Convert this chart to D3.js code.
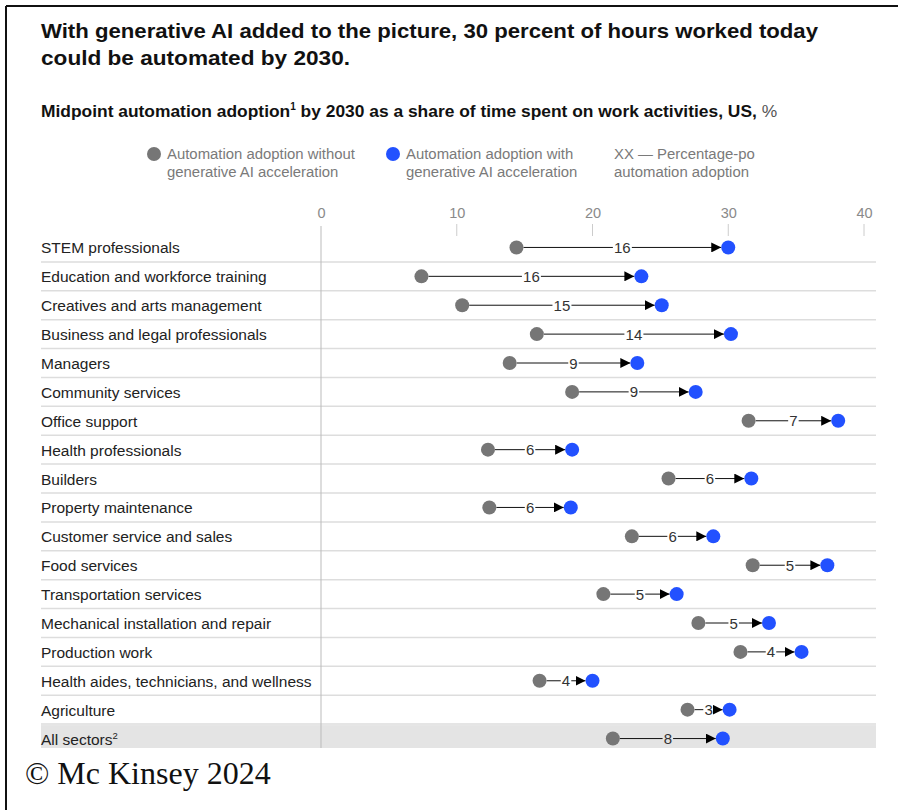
<!DOCTYPE html>
<html>
<head>
<meta charset="utf-8">
<script src="https://cdn.jsdelivr.net/npm/d3@7"></script>
<style>
  html, body { margin: 0; padding: 0; background: #fff; }
  svg { display: block; }
</style>
</head>
<body>
<svg id="chart" width="898" height="810"></svg>
<script>
// Occupation groups, top to bottom
const categories = [
  "STEM professionals",
  "Education and workforce training",
  "Creatives and arts management",
  "Business and legal professionals",
  "Managers",
  "Community services",
  "Office support",
  "Health professionals",
  "Builders",
  "Property maintenance",
  "Customer service and sales",
  "Food services",
  "Transportation services",
  "Mechanical installation and repair",
  "Production work",
  "Health aides, technicians, and wellness",
  "Agriculture",
  "All sectors"
];

// Midpoint adoption without generative AI acceleration, %
const withoutGenAI = [14.4, 7.4, 10.4, 15.9, 13.9, 18.5, 31.5, 12.3, 25.6, 12.4, 22.9, 31.8, 20.8, 27.8, 30.9, 16.1, 27.0, 21.5];
// Midpoint adoption with generative AI acceleration, %
const withGenAI = [30.0, 23.6, 25.1, 30.2, 23.3, 27.6, 38.1, 18.5, 31.7, 18.4, 28.9, 37.3, 26.2, 33.0, 35.4, 20.0, 30.1, 29.6];
// Percentage-point increase labels
const increase = [16, 16, 15, 14, 9, 9, 7, 6, 6, 6, 6, 5, 5, 5, 4, 4, 3, 8];

const xTicks = [0, 10, 20, 30, 40];

const GRAY = "#767676";
const BLUE = "#2251ff";
const FONT = "'Liberation Sans', Arial, sans-serif";

const svg = d3.select("#chart");

// frame
svg.append("line").attr("x1", 6).attr("x2", 898).attr("y1", 6).attr("y2", 6)
  .attr("stroke", "#111").attr("stroke-width", 2);
svg.append("line").attr("x1", 6).attr("x2", 6).attr("y1", 6).attr("y2", 810)
  .attr("stroke", "#111").attr("stroke-width", 2);

// title
const titleLines = [
  { text: "With generative AI added to the picture, 30 percent of hours worked today", w: 777, y: 38 },
  { text: "could be automated by 2030.", w: 309, y: 65 }
];
svg.append("g").selectAll("text").data(titleLines).join("text")
  .attr("x", 41).attr("y", d => d.y)
  .attr("font-family", FONT).attr("font-weight", "bold").attr("font-size", 21).attr("fill", "#111")
  .attr("textLength", d => d.w).attr("lengthAdjust", "spacingAndGlyphs")
  .text(d => d.text);

// subtitle
const sub = svg.append("text").attr("x", 41).attr("y", 117)
  .attr("font-family", FONT).attr("font-size", 17.4).attr("fill", "#111");
sub.append("tspan").attr("font-weight", "bold").text("Midpoint automation adoption");
sub.append("tspan").attr("font-weight", "bold").attr("font-size", 10).attr("dy", -7).text("1");
sub.append("tspan").attr("font-weight", "bold").attr("dy", 7).text(" by 2030 as a share of time spent on work activities, US, ");
sub.append("tspan").attr("fill", "#555").text("%");

// legend
const legend = [
  { x: 154, color: GRAY, lines: ["Automation adoption without", "generative AI acceleration"] },
  { x: 393, color: BLUE, lines: ["Automation adoption with", "generative AI acceleration"] },
  { x: null, color: null, lines: ["XX \u2014 Percentage-po", "automation adoption"] }
];
legend.forEach((d, i) => {
  const tx = i === 2 ? 614 : d.x + 13;
  if (d.color) {
    svg.append("circle").attr("cx", d.x).attr("cy", 154).attr("r", 7).attr("fill", d.color);
  }
  const t = svg.append("text").attr("font-family", FONT).attr("font-size", 14.9).attr("fill", "#7a7a7a");
  d.lines.forEach((l, j) => {
    t.append("tspan").attr("x", tx).attr("y", 159 + j * 18).text(l);
  });
});

// scales
const x = d3.scaleLinear().domain([0, 40]).range([321, 864]);
const y = d3.scaleBand().domain(categories).range([233, 753]).paddingInner(0).paddingOuter(0);
const rowH = y.bandwidth();
const left = 41, right = 876;

// highlighted total row
const last = categories[categories.length - 1];
svg.append("rect").attr("x", left).attr("width", right - left)
  .attr("y", y(last) + 1).attr("height", rowH - 6).attr("fill", "#e4e4e4");

// row separators
svg.append("g").selectAll("line").data(categories.slice(1)).join("line")
  .attr("x1", left).attr("x2", right)
  .attr("y1", d => y(d)).attr("y2", d => y(d))
  .attr("stroke", "#dddddd").attr("stroke-width", 1.5);

// top axis
const axis = d3.axisTop(x).tickValues(xTicks).tickSize(0).tickPadding(0);
const gAxis = svg.append("g").attr("transform", "translate(0,218)").call(axis);
gAxis.select(".domain").remove();
gAxis.selectAll("text").attr("font-family", FONT).attr("font-size", 14.5).attr("fill", "#8a8a8a");
svg.append("g").selectAll("line").data(xTicks.filter(t => t > 0)).join("line")
  .attr("x1", d => x(d)).attr("x2", d => x(d)).attr("y1", 224).attr("y2", 236)
  .attr("stroke", "#cccccc").attr("stroke-width", 1);
svg.append("line").attr("x1", x(0)).attr("x2", x(0)).attr("y1", 226).attr("y2", 748)
  .attr("stroke", "#bbbbbb").attr("stroke-width", 1);

// row labels
const labels = svg.append("g").selectAll("text").data(categories).join("text")
  .attr("x", left).attr("y", d => y(d) + rowH / 2 + 6)
  .attr("font-family", FONT).attr("font-size", 15.5).attr("fill", "#222")
  .text(d => d);
labels.filter(d => d === last).text("All sectors")
  .append("tspan").attr("font-size", 9.5).attr("dy", -6).text("2");

// arrow marker
svg.append("defs").append("marker")
  .attr("id", "arrow").attr("viewBox", "0 0 10 10").attr("refX", 10).attr("refY", 5)
  .attr("markerWidth", 10).attr("markerHeight", 10).attr("markerUnits", "userSpaceOnUse")
  .attr("orient", "auto")
  .append("path").attr("d", "M0,0L10,5L0,10Z").attr("fill", "#000");

const R = 7;
const rows = categories.map((c, i) => ({ c, a: withoutGenAI[i], b: withGenAI[i], d: increase[i] }));
const g = svg.append("g");
rows.forEach(r => {
  const cy = y(r.c) + rowH / 2;
  const x0 = x(r.a), x1 = x(r.b);
  const mid = (x0 + x1) / 2;
  const label = String(r.d);
  const lw = label.length * 8.5 + 2;
  g.append("line").attr("x1", x0 + R).attr("x2", mid - lw / 2)
    .attr("y1", cy).attr("y2", cy).attr("stroke", "#111").attr("stroke-width", 1);
  g.append("line").attr("x1", mid + lw / 2).attr("x2", x1 - R)
    .attr("y1", cy).attr("y2", cy).attr("stroke", "#111").attr("stroke-width", 1)
    .attr("marker-end", "url(#arrow)");
  g.append("text").attr("x", mid).attr("y", cy + 5.5).attr("text-anchor", "middle")
    .attr("font-family", FONT).attr("font-size", 15).attr("fill", "#333").text(label);
  g.append("circle").attr("cx", x0).attr("cy", cy).attr("r", R).attr("fill", GRAY);
  g.append("circle").attr("cx", x1).attr("cy", cy).attr("r", R).attr("fill", BLUE);
});

// copyright line
svg.append("text").attr("x", 25).attr("y", 784)
  .attr("font-family", "'Liberation Serif', 'Times New Roman', serif").attr("font-size", 32).attr("fill", "#111")
  .text("\u00a9 Mc Kinsey 2024");
</script>
</body>
</html>
